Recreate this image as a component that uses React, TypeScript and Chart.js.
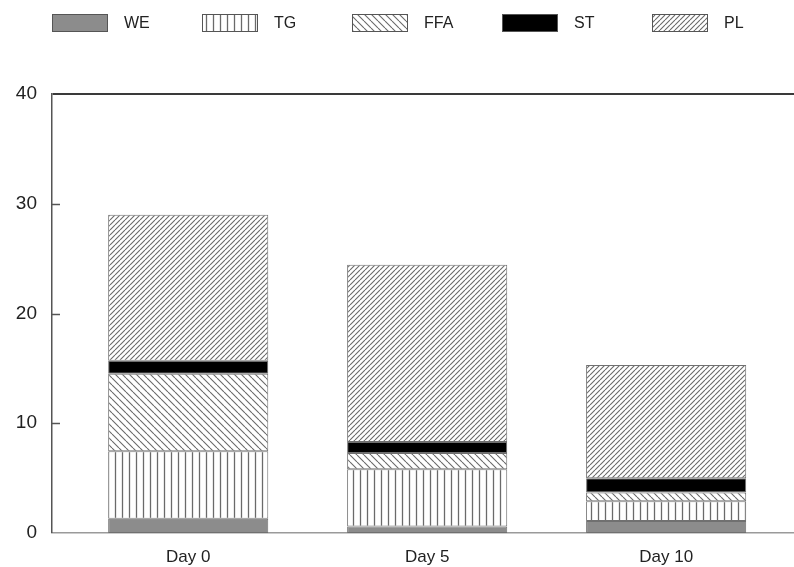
import React, { useEffect, useRef } from 'react';
import { Chart, registerables } from 'chart.js';

Chart.register(...registerables);

const categories = ['Day 0', 'Day 5', 'Day 10'];
const seriesNames = ['WE', 'TG', 'FFA', 'ST', 'PL'];
const weValues = [1.3, 0.6, 1.1];
const tgValues = [6.15, 5.2, 1.8];
const ffaValues = [7.05, 1.5, 0.8];
const stValues = [1.2, 1.0, 1.3];
const plValues = [13.3, 16.15, 10.3];
const yTickValues = [0, 10, 20, 30, 40];

const FONT = "'Liberation Sans', Arial, Helvetica, sans-serif";

function makePattern(kind: string): CanvasPattern | string {
  if (kind === 'solidGray') return '#8c8c8c';
  if (kind === 'solidBlack') return '#000000';
  const c = document.createElement('canvas');
  const s = kind === 'vertical' ? 7 : kind === 'back' ? 7 : 5;
  c.width = s;
  c.height = s;
  const g = c.getContext('2d')!;
  g.fillStyle = '#ffffff';
  g.fillRect(0, 0, s, s);
  g.strokeStyle = '#6a6a6a';
  g.lineWidth = kind === 'vertical' ? 1.3 : 1.1;
  g.beginPath();
  if (kind === 'vertical') {
    g.moveTo(s / 2, 0);
    g.lineTo(s / 2, s);
  } else if (kind === 'back') {
    for (const o of [-s, 0, s]) {
      g.moveTo(o, 0);
      g.lineTo(o + s, s);
    }
  } else {
    for (const o of [-s, 0, s]) {
      g.moveTo(o, s);
      g.lineTo(o + s, 0);
    }
  }
  g.stroke();
  return g.createPattern(c, 'repeat')!;
}

const legendPlugin = {
  id: 'customLegend',
  afterDraw(chart: any) {
    const ctx = chart.ctx as CanvasRenderingContext2D;
    ctx.save();
    chart.data.datasets.forEach((ds: any, i: number) => {
      const x = 52 + i * 150;
      const y = 14;
      ctx.fillStyle = ds.backgroundColor;
      ctx.fillRect(x, y, 55, 17);
      ctx.strokeStyle = '#555';
      ctx.lineWidth = 1;
      ctx.strokeRect(x + 0.5, y + 0.5, 55, 17);
      ctx.fillStyle = '#222';
      ctx.font = `16px ${FONT}`;
      ctx.textBaseline = 'middle';
      ctx.textAlign = 'left';
      ctx.fillText(ds.label, x + 72, y + 10);
    });
    ctx.restore();
  },
};

const innerTicksPlugin = {
  id: 'innerTicks',
  afterDatasetsDraw(chart: any) {
    const ctx = chart.ctx as CanvasRenderingContext2D;
    const yScale = chart.scales.y;
    const left = chart.chartArea.left;
    ctx.save();
    ctx.strokeStyle = '#555';
    ctx.lineWidth = 1.5;
    yTickValues.slice(1, -1).forEach((v) => {
      const py = Math.round(yScale.getPixelForValue(v)) + 0.5;
      ctx.beginPath();
      ctx.moveTo(left, py);
      ctx.lineTo(left + 8, py);
      ctx.stroke();
    });
    ctx.restore();
  },
};

export default function App() {
  const ref = useRef<HTMLCanvasElement | null>(null);

  useEffect(() => {
    if (!ref.current) return;
    const fills = [
      makePattern('solidGray'),
      makePattern('vertical'),
      makePattern('back'),
      makePattern('solidBlack'),
      makePattern('forward'),
    ];
    const allValues = [weValues, tgValues, ffaValues, stValues, plValues];
    const datasets = seriesNames.map((name, si) => ({
      label: name,
      data: allValues[si].map((v, i) => ({ x: i, y: v })),
      backgroundColor: fills[si] as any,
      borderColor: '#707070',
      borderWidth: 1,
      borderSkipped: false as any,
      barPercentage: 0.67,
      categoryPercentage: 1,
    }));

    const chart = new Chart(ref.current, {
      type: 'bar',
      data: { datasets },
      plugins: [legendPlugin, innerTicksPlugin],
      options: {
        animation: false,
        responsive: false,
        maintainAspectRatio: false,
        layout: { padding: { top: 94, right: 0, left: 0, bottom: 0 } },
        plugins: {
          legend: { display: false },
          tooltip: { enabled: false },
        },
        scales: {
          x: {
            type: 'linear',
            stacked: true,
            offset: false,
            min: -0.57,
            max: 2.535,
            grid: { display: false },
            border: { display: true, color: '#9a9a9a', width: 1.5 },
            afterBuildTicks: (axis: any) => {
              axis.ticks = categories.map((_, i) => ({ value: i }));
            },
            afterFit: (axis: any) => {
              axis.height = 34;
            },
            ticks: {
              autoSkip: false,
              maxRotation: 0,
              padding: 6,
              color: '#222',
              font: { family: FONT, size: 17 },
              callback: (v: any) => categories[v as number] ?? '',
            },
          },
          y: {
            type: 'linear',
            stacked: true,
            min: 0,
            max: 40,
            afterBuildTicks: (axis: any) => {
              axis.ticks = yTickValues.map((v) => ({ value: v }));
            },
            afterFit: (axis: any) => {
              axis.width = 52;
            },
            grid: {
              drawTicks: false,
              color: (c: any) => (c.tick && c.tick.value === 40 ? '#3a3a3a' : 'rgba(0,0,0,0)'),
              lineWidth: (c: any) => (c.tick && c.tick.value === 40 ? 2 : 0),
            },
            border: { display: true, color: '#555', width: 1.5 },
            ticks: {
              padding: 15,
              color: '#222',
              font: { family: FONT, size: 19 },
            },
          },
        },
      },
    });
    return () => chart.destroy();
  }, []);

  return (
    <div style={{ position: 'fixed', left: 0, top: 0, width: 794, height: 567, background: '#fff' }}>
      <canvas ref={ref} width={794} height={567} style={{ width: 794, height: 567 }} />
    </div>
  );
}
